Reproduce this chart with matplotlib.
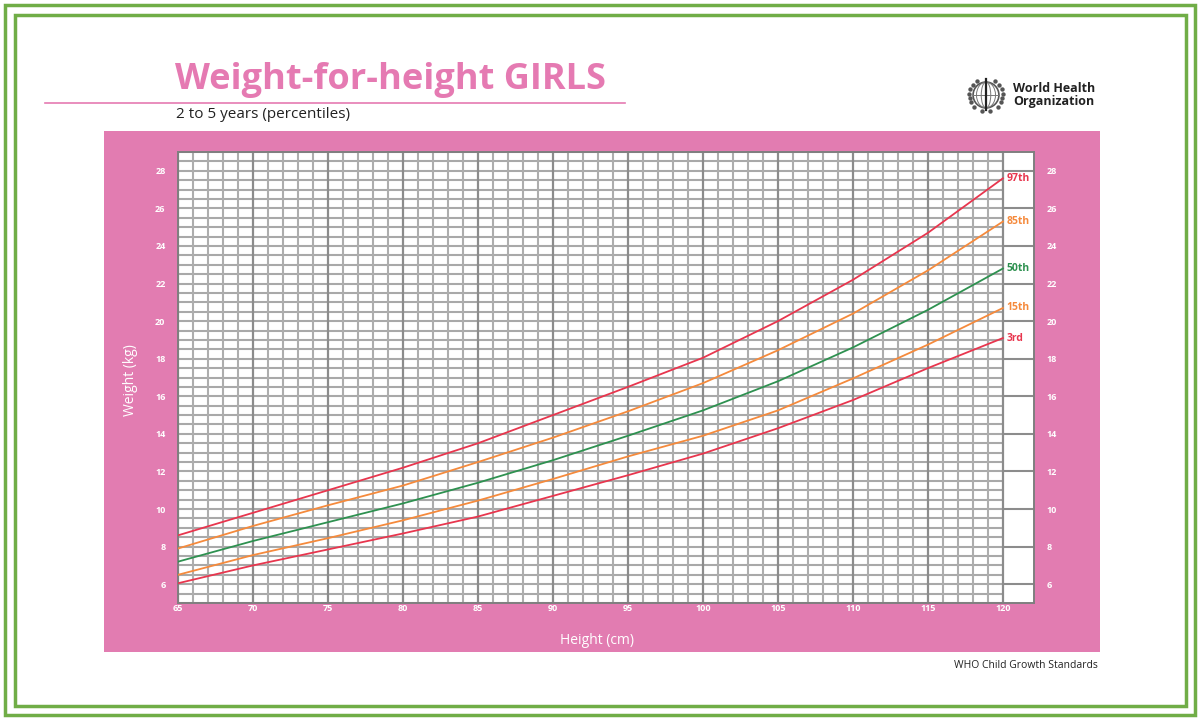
import numpy as np
import matplotlib.pyplot as plt
from matplotlib.patches import Rectangle, Circle, Ellipse

# percentile curves, every 5 cm
height = [65, 70, 75, 80, 85, 90, 95, 100, 105, 110, 115, 120]
p97 = [8.6, 9.8, 11.0, 12.2, 13.5, 15.0, 16.5, 18.05, 20.0, 22.2, 24.7, 27.6]
p85 = [7.9, 9.1, 10.2, 11.25, 12.5, 13.8, 15.2, 16.7, 18.45, 20.4, 22.7, 25.3]
p50 = [7.2, 8.3, 9.3, 10.3, 11.4, 12.6, 13.9, 15.25, 16.8, 18.6, 20.6, 22.8]
p15 = [6.5, 7.55, 8.45, 9.4, 10.45, 11.6, 12.8, 13.9, 15.25, 16.95, 18.75, 20.7]
p3 = [6.05, 7.0, 7.85, 8.7, 9.6, 10.7, 11.8, 12.95, 14.3, 15.8, 17.5, 19.1]

curves = [("97th", p97), ("85th", p85), ("50th", p50), ("15th", p15), ("3rd", p3)]
x_ticks = list(range(65, 121, 5))
y_ticks = list(range(6, 29, 2))

RED = "#e8364e"
ORANGE = "#f58a3c"
GREEN = "#2e9150"
colors = {"97th": RED, "85th": ORANGE, "50th": GREEN, "15th": ORANGE, "3rd": RED}
PINK = "#e27cb1"
TITLE_PINK = "#e57ab2"
BORDER = "#70ad47"

plt.rcParams["font.family"] = ["Open Sans", "DejaVu Sans"]

W, H = 1199, 719
fig = plt.figure(figsize=(W / 100, H / 100), dpi=100)


def fx(px):
    return px / W


def fy(py):
    return 1 - py / H


# green double frame
for x0, y0, x1, y1 in [(5, 5, 1195, 715), (15, 15, 1186, 706)]:
    fig.add_artist(Rectangle((fx(x0), fy(y1)), fx(x1 - x0), (y1 - y0) / H,
                             transform=fig.transFigure, fill=False,
                             edgecolor=BORDER, linewidth=2.5, zorder=-2))

# pink panel
fig.add_artist(Rectangle((fx(104), fy(652)), fx(1100 - 104), (652 - 131) / H,
                         transform=fig.transFigure, facecolor=PINK,
                         edgecolor="none", zorder=-1))

# header
fig.text(fx(175), fy(80), "Weight-for-height GIRLS", color=TITLE_PINK,
         fontsize=26, fontweight="bold", va="center", ha="left")
fig.add_artist(plt.Line2D([fx(45), fx(625)], [fy(103), fy(103)],
                          transform=fig.transFigure, color=TITLE_PINK, linewidth=1.2))
fig.text(fx(176), fy(115), "2 to 5 years (percentiles)", color="#222222",
         fontsize=11, va="center", ha="left")
fig.text(fx(1013), fy(95), "World Health\nOrganization", color="#222222",
         fontsize=9, fontweight="bold", va="center", ha="left", linespacing=0.95)
fig.text(fx(1098), fy(665), "WHO Child Growth Standards", color="#222222",
         fontsize=7.5, va="center", ha="right")

# WHO emblem (simplified)
lax = fig.add_axes([fx(963), fy(114), fx(46), 38 / H])
lax.set_xlim(-1.2, 1.2)
lax.set_ylim(-1.0, 1.0)
lax.set_aspect("equal")
lax.axis("off")
lax.add_patch(Circle((0, 0), 0.68, fill=False, edgecolor="#555555", linewidth=1.2))
for w in [0.5, 1.0]:
    lax.add_patch(Ellipse((0, 0), w, 1.36, fill=False, edgecolor="#777777", linewidth=0.7))
lax.plot([-0.68, 0.68], [0, 0], color="#777777", linewidth=0.7)
lax.plot([0, 0], [-0.8, 0.85], color="#222222", linewidth=1.6)
for s in [-1, 1]:
    t = np.linspace(-0.85, 0.75, 8)
    lax.scatter(s * np.sqrt(np.clip(0.88 ** 2 - t ** 2, 0, None)), t, s=10,
                color="#555555", marker="o", linewidths=0)

# chart area
x_left, x_right = 65, 122.07
ax = fig.add_axes([fx(178), fy(603), fx(1034 - 178), (603 - 152) / H])
ax.set_xlim(x_left, x_right)
ax.set_ylim(5, 29)
ax.set_facecolor("white")

for v in np.arange(5, 29.01, 0.5):
    ax.hlines(v, 65, 120, color="#a9a9a9", linewidth=1.5, zorder=1)
for v in range(65, 121):
    major = v % 5 == 0
    ax.vlines(v, 5, 29, color="#8c8c8c" if major else "#adadad",
              linewidth=1.6 if major else 1.5, zorder=1)
for v in y_ticks:
    ax.hlines(v, 120, x_right, color="#8c8c8c", linewidth=1.5, zorder=1)

for name, vals in curves:
    ax.plot(height, vals, color=colors[name], linewidth=1.3, zorder=3)
    ax.text(120.25, vals[-1], name, color=colors[name], fontsize=7.5,
            fontweight="bold", va="center", ha="left", zorder=4)

ax.set_xticks(x_ticks)
ax.set_yticks(y_ticks)
ax.tick_params(axis="both", length=0, colors="white", labelsize=6.5)
ax.tick_params(axis="y", labelright=True, pad=9)
ax.tick_params(axis="x", pad=1)
for lab in ax.get_xticklabels() + ax.get_yticklabels():
    lab.set_fontweight("bold")
for lab in ax.yaxis.get_ticklabels(which="both"):
    lab.set_fontweight("bold")
for s in ax.spines.values():
    s.set_color("#7f7f7f")
    s.set_linewidth(1.4)

fig.text(fx(597), fy(640), "Height (cm)", color="white", fontsize=10,
         va="center", ha="center")
fig.text(fx(131), fy(380), "Weight (kg)", color="white", fontsize=10,
         va="center", ha="center", rotation=90)

fig.savefig("out.png", dpi=100, facecolor="white")
